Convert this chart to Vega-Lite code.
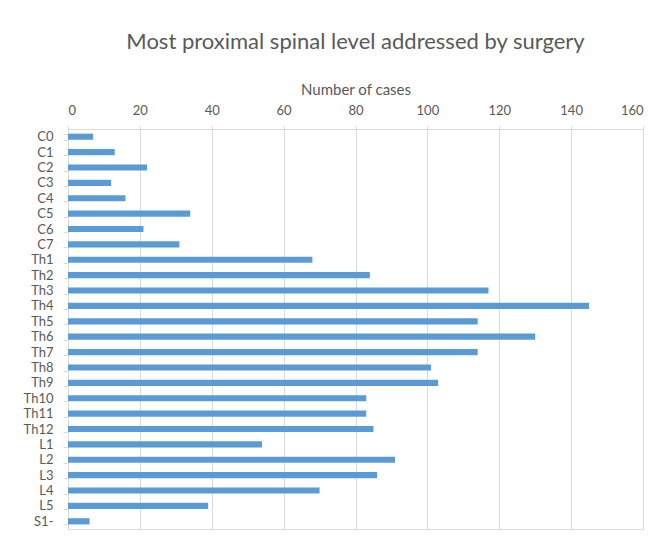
{
  "$schema": "https://vega.github.io/schema/vega-lite/v6.json",
  "width": 575,
  "height": 400,
  "autosize": {"type": "none"},
  "padding": {"left": 68, "top": 129, "right": 25, "bottom": 11},
  "background": "white",
  "title": {
    "text": "Most proximal spinal level addressed by surgery",
    "fontSize": 22,
    "fontWeight": "normal",
    "color": "#595959",
    "font": "Lato",
    "anchor": "middle",
    "offset": 28
  },
  "data": {
    "values": [
      {"level": "C0", "cases": 7},
      {"level": "C1", "cases": 13},
      {"level": "C2", "cases": 22},
      {"level": "C3", "cases": 12},
      {"level": "C4", "cases": 16},
      {"level": "C5", "cases": 34},
      {"level": "C6", "cases": 21},
      {"level": "C7", "cases": 31},
      {"level": "Th1", "cases": 68},
      {"level": "Th2", "cases": 84},
      {"level": "Th3", "cases": 117},
      {"level": "Th4", "cases": 145},
      {"level": "Th5", "cases": 114},
      {"level": "Th6", "cases": 130},
      {"level": "Th7", "cases": 114},
      {"level": "Th8", "cases": 101},
      {"level": "Th9", "cases": 103},
      {"level": "Th10", "cases": 83},
      {"level": "Th11", "cases": 83},
      {"level": "Th12", "cases": 85},
      {"level": "L1", "cases": 54},
      {"level": "L2", "cases": 91},
      {"level": "L3", "cases": 86},
      {"level": "L4", "cases": 70},
      {"level": "L5", "cases": 39},
      {"level": "S1-", "cases": 6}
    ]
  },
  "mark": {"type": "bar", "color": "#5b9bd5"},
  "encoding": {
    "y": {
      "field": "level",
      "type": "nominal",
      "sort": null,
      "scale": {"paddingInner": 0.6, "paddingOuter": 0.3},
      "axis": {
        "title": null,
        "domain": false,
        "ticks": true,
        "tickBand": "extent",
        "tickColor": "#d9d9d9",
        "tickSize": 5,
        "labelPadding": 10,
        "labelFontSize": 13,
        "labelColor": "#595959",
        "labelFont": "Lato"
      }
    },
    "x": {
      "field": "cases",
      "type": "quantitative",
      "scale": {"domain": [0, 160], "nice": false},
      "axis": {
        "orient": "top",
        "title": "Number  of cases",
        "titleFont": "Lato",
        "titleFontSize": 15,
        "titleFontWeight": "normal",
        "titleColor": "#595959",
        "titlePadding": 7,
        "values": [0, 20, 40, 60, 80, 100, 120, 140, 160],
        "grid": true,
        "gridColor": "#d9d9d9",
        "domain": false,
        "ticks": true,
        "tickSize": 3,
        "tickColor": "#d9d9d9",
        "labelPadding": 9,
        "labelFontSize": 13,
        "labelColor": "#595959",
        "labelFont": "Lato"
      }
    }
  },
  "config": {
    "font": "Lato",
    "view": {"stroke": "#d9d9d9", "strokeWidth": 1}
  }
}
